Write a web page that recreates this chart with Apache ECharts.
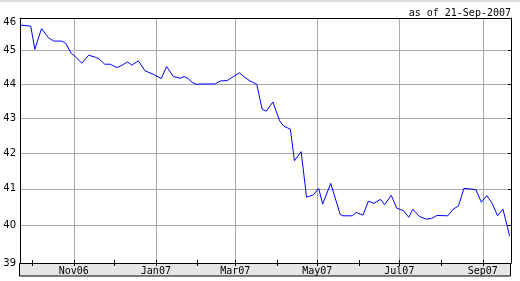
<!DOCTYPE html>
<html>
<head>
<meta charset="utf-8">
<script src="https://cdn.jsdelivr.net/npm/echarts@6/dist/echarts.min.js"></script>
<style>html,body{margin:0;padding:0;background:#fff}#c{width:520px;height:281px}</style>
</head>
<body>
<div id="c"></div>
<script>
// ---- data ----
var dates = [
  '2006-09-22','2006-09-30','2006-10-03','2006-10-08','2006-10-13','2006-10-17','2006-10-23','2006-10-26','2006-10-30',
  '2006-11-02','2006-11-07','2006-11-12','2006-11-17','2006-11-20','2006-11-24','2006-11-28',
  '2006-12-03','2006-12-06','2006-12-11','2006-12-14','2006-12-19','2006-12-24','2006-12-30',
  '2007-01-05','2007-01-09','2007-01-14','2007-01-19','2007-01-22','2007-01-25','2007-01-28','2007-01-31',
  '2007-02-04','2007-02-14','2007-02-18','2007-02-23','2007-02-28',
  '2007-03-04','2007-03-08','2007-03-12','2007-03-17','2007-03-21','2007-03-24','2007-03-29',
  '2007-04-03','2007-04-06','2007-04-11','2007-04-14','2007-04-19','2007-04-23','2007-04-28',
  '2007-05-02','2007-05-05','2007-05-11','2007-05-18','2007-05-20','2007-05-27','2007-05-30',
  '2007-06-04','2007-06-08','2007-06-12','2007-06-17','2007-06-20','2007-06-25','2007-06-29',
  '2007-07-04','2007-07-08','2007-07-11','2007-07-16','2007-07-21','2007-07-25','2007-07-29',
  '2007-08-06','2007-08-10','2007-08-14','2007-08-18','2007-08-24','2007-08-27','2007-08-31',
  '2007-09-04','2007-09-08','2007-09-12','2007-09-16','2007-09-19','2007-09-21'
];
var prices = [
  45.78,45.75,45.04,45.67,45.40,45.29,45.29,45.22,44.92,
  44.82,44.62,44.86,44.80,44.74,44.59,44.59,
  44.49,44.54,44.66,44.56,44.69,44.39,44.29,
  44.16,44.52,44.22,44.17,44.22,44.16,44.05,43.99,
  44.00,44.00,44.09,44.10,44.23,
  44.33,44.20,44.09,43.99,43.26,43.20,43.47,
  42.92,42.77,42.68,41.78,42.04,40.77,40.83,
  41.01,40.58,41.15,40.30,40.26,40.26,40.35,
  40.28,40.66,40.60,40.71,40.56,40.82,40.47,
  40.40,40.22,40.44,40.24,40.17,40.19,40.27,
  40.26,40.44,40.53,41.01,40.99,40.97,40.63,
  40.81,40.60,40.26,40.44,40.01,39.71
];
var yTicks = [39, 40, 41, 42, 43, 44, 45, 46];
var monthTicks = ['2006-10-01','2006-11-01','2006-12-01','2007-01-01','2007-02-01','2007-03-01',
                  '2007-04-01','2007-05-01','2007-06-01','2007-07-01','2007-08-01','2007-09-01'];
var labelMonths = ['2006-11-01','2007-01-01','2007-03-01','2007-05-01','2007-07-01','2007-09-01'];
var xMin = '2006-09-22', xMax = '2007-09-22';
var asOfText = 'as of 21-Sep-2007';
var monthNames = ['Jan','Feb','Mar','Apr','May','Jun','Jul','Aug','Sep','Oct','Nov','Dec'];

function ts(s) {
  var p = s.split('-');
  return new Date(+p[0], +p[1] - 1, +p[2]).getTime();
}
var seriesData = dates.map(function (d, i) { return [ts(d), prices[i]]; });
var monthTickTs = monthTicks.map(ts);
var labelTs = labelMonths.map(ts);
var yTop = yTicks[yTicks.length - 1];

function fmtMonth(v) {
  var d = new Date(v);
  var yy = String(d.getFullYear() % 100);
  if (yy.length < 2) yy = '0' + yy;
  return monthNames[d.getMonth()] + yy;
}

var chart = echarts.init(document.getElementById('c'), null, {renderer: 'canvas'});
var black = '#000';
var grid = {left: 20, right: 9, top: 18, bottom: 18};
chart.setOption({
  animation: false,
  backgroundColor: '#fff',
  title: {
    text: asOfText, right: 4, top: 3,
    textStyle: {fontFamily: 'DejaVu Sans Mono', fontSize: 10, fontWeight: 'normal', color: '#000'}
  },
  graphic: [
    {type: 'rect', z: 0, shape: {x: 0, y: 0, width: 520, height: 2}, style: {fill: '#d9d9d9'}},
    {type: 'rect', z: 0, shape: {x: 19.5, y: 263.5, width: 491, height: 12.5},
     style: {fill: '#e6e6e6', stroke: '#000', lineWidth: 1}}
  ],
  grid: [
    Object.assign({}, grid),
    Object.assign({}, grid)
  ],
  xAxis: [
    {
      type: 'value', gridIndex: 0, position: 'bottom', min: ts(xMin), max: ts(xMax),
      axisLine: {show: true, lineStyle: {color: black, width: 1}},
      axisTick: {show: true, inside: true, length: 3, customValues: monthTickTs, lineStyle: {color: black}},
      axisLabel: {show: true, customValues: labelTs, formatter: fmtMonth, margin: 3,
                  fontFamily: 'DejaVu Sans Mono', fontSize: 10, color: '#000', hideOverlap: false},
      splitLine: {show: false}
    },
    {
      type: 'value', gridIndex: 0, position: 'top', min: ts(xMin), max: ts(xMax),
      axisLine: {show: true, lineStyle: {color: black, width: 1}},
      axisTick: {show: false, customValues: labelTs},
      axisLabel: {show: false},
      splitLine: {show: true, lineStyle: {color: '#a8a8a8', width: 1}}
    },
    {
      type: 'value', gridIndex: 1, position: 'top', min: ts(xMin), max: ts(xMax),
      axisLine: {show: false},
      axisTick: {show: true, inside: true, length: 3, customValues: monthTickTs, lineStyle: {color: black}},
      axisLabel: {show: false},
      splitLine: {show: false}
    }
  ],
  yAxis: [
    {
      type: 'log', gridIndex: 0, position: 'left', min: 39, max: 46, logBase: 10,
      axisLine: {show: true, lineStyle: {color: black, width: 1}},
      axisTick: {show: false, customValues: yTicks},
      axisLabel: {show: true, customValues: yTicks, margin: 4, fontFamily: 'DejaVu Sans', fontSize: 10, color: '#000',
                  formatter: function (v) {
                    var s = String(Math.round(v));
                    return Math.round(v) === yTop ? '{t|' + s + '}' : s;
                  },
                  rich: {t: {fontFamily: 'DejaVu Sans', fontSize: 10, color: '#000', padding: [9, 0, 0, 0]}}},
      splitLine: {show: true, lineStyle: {color: '#a8a8a8', width: 1}}
    },
    {
      type: 'log', gridIndex: 0, position: 'right', min: 39, max: 46, logBase: 10,
      axisLine: {show: true, lineStyle: {color: black, width: 1}},
      axisTick: {show: true, inside: true, length: 3, customValues: yTicks, lineStyle: {color: black}},
      axisLabel: {show: false},
      splitLine: {show: false}
    },
    {
      type: 'value', gridIndex: 1, show: false, min: 0, max: 1,
      splitLine: {show: false}
    }
  ],
  series: [{
    type: 'line', xAxisIndex: 0, yAxisIndex: 0,
    data: seriesData, showSymbol: false, symbol: 'none',
    lineStyle: {color: '#0000ff', width: 1},
    z: 5
  }]
});
</script>
</body>
</html>
